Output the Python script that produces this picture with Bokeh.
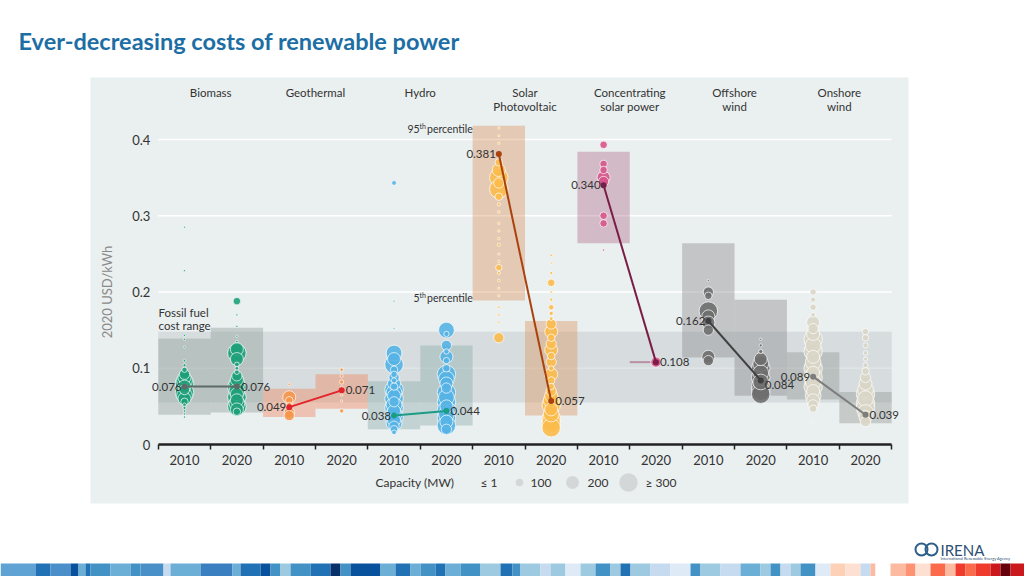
from bokeh.plotting import figure
from bokeh.models import Range1d, LinearAxis, FixedTicker, ColumnDataSource, LinearInterpolator
from bokeh.core.properties import value
from bokeh.embed import file_html
from bokeh.resources import INLINE

# ---------------- data ----------------
techs = ["Biomass", "Geothermal", "Hydro", "Solar\nPhotovoltaic",
         "Concentrating\nsolar power", "Offshore\nwind", "Onshore\nwind"]
years = ["2010", "2020"]
avg_2010 = [0.076, 0.049, 0.038, 0.381, 0.340, 0.162, 0.089]
avg_2020 = [0.076, 0.071, 0.044, 0.057, 0.108, 0.084, 0.039]
avg_2010_labels = ["0.076", "0.049", "0.038", "0.381", "0.340", "0.162", "0.089"]
avg_2020_labels = ["0.076", "0.071", "0.044", "0.057", "0.108", "0.084", "0.039"]
p5_2010 = [0.039, 0.036, 0.020, 0.189, 0.264, 0.114, 0.059]
p95_2010 = [0.139, 0.073, 0.083, 0.418, 0.384, 0.264, 0.121]
p5_2020 = [0.042, 0.047, 0.025, 0.038, 0.108, 0.064, 0.028]
p95_2020 = [0.153, 0.092, 0.130, 0.162, 0.108, 0.190, 0.069]
fossil_low = 0.055
fossil_high = 0.148
y_ticks = [0, 0.1, 0.2, 0.3, 0.4]
y_tick_labels = ["0", "0.1", "0.2", "0.3", "0.4"]
legend_mw = [100, 200, 300]
legend_labels = ["≤ 1", "100", "200", "≥ 300"]

# individual projects: LCOE (USD/kWh) and capacity (MW), per technology and year
biomass_2010_lcoe = [0.285, 0.228, 0.143, 0.138, 0.128, 0.110, 0.104, 0.098, 0.092, 0.088, 0.084, 0.080,
                     0.076, 0.072, 0.068, 0.064, 0.060, 0.056, 0.052, 0.048, 0.044, 0.040, 0.036]
biomass_2010_mw = [1, 1, 5, 5, 1, 10, 20, 60, 150, 200, 250, 300, 200, 150, 300, 250, 200, 100, 30, 20, 10, 5, 5]
biomass_2020_lcoe = [0.188, 0.170, 0.155, 0.142, 0.135, 0.125, 0.120, 0.112, 0.105, 0.100, 0.095, 0.090,
                     0.085, 0.080, 0.075, 0.070, 0.066, 0.062, 0.058, 0.054, 0.050, 0.046, 0.043]
biomass_2020_mw = [100, 3, 5, 5, 10, 200, 300, 200, 50, 30, 50, 150, 200, 250, 300, 250, 200, 300, 200, 250, 300, 200, 100]
geothermal_2010_lcoe = [0.079, 0.062, 0.058, 0.052, 0.042, 0.038]
geothermal_2010_mw = [10, 200, 100, 60, 150, 150]
geothermal_2020_lcoe = [0.098, 0.090, 0.082, 0.075, 0.065, 0.057, 0.044]
geothermal_2020_mw = [30, 20, 40, 10, 5, 5, 40]
hydro_2010_lcoe = [0.343, 0.188, 0.152, 0.120, 0.112, 0.105, 0.098, 0.092, 0.088, 0.084, 0.080, 0.076, 0.072,
                   0.068, 0.064, 0.060, 0.056, 0.052, 0.048, 0.044, 0.040, 0.036, 0.032, 0.028, 0.024, 0.020, 0.016]
hydro_2010_mw = [50, 5, 2, 250, 200, 300, 100, 80, 150, 60, 200, 100, 300,
                 250, 200, 300, 150, 250, 300, 200, 250, 300, 200, 250, 150, 100, 50]
hydro_2020_lcoe = [0.150, 0.145, 0.130, 0.122, 0.115, 0.110, 0.100, 0.092, 0.086, 0.080, 0.074, 0.068, 0.062,
                   0.056, 0.050, 0.045, 0.040, 0.035, 0.030, 0.025, 0.020]
hydro_2020_mw = [250, 60, 150, 60, 200, 80, 100, 300, 250, 200, 150, 300, 250, 300, 200, 300, 250, 300, 200, 300, 150]
pv_2010_lcoe = [0.415, 0.405, 0.395, 0.380, 0.370, 0.360, 0.350, 0.343, 0.335, 0.325, 0.315, 0.305, 0.290,
                0.280, 0.270, 0.262, 0.250, 0.240, 0.232, 0.225, 0.215, 0.205, 0.195, 0.180, 0.170, 0.160, 0.140]
pv_2010_mw = [5, 3, 5, 20, 100, 200, 300, 150, 300, 100, 20, 10, 5, 5, 10, 20, 5, 10, 80, 20, 10, 5, 3, 10, 10, 5, 150]
pv_2020_lcoe = [0.248, 0.238, 0.225, 0.212, 0.200, 0.190, 0.180, 0.172, 0.165, 0.158, 0.148, 0.140, 0.132,
                0.124, 0.116, 0.108, 0.100, 0.092, 0.084, 0.076, 0.070, 0.064, 0.058, 0.052, 0.046, 0.040,
                0.034, 0.028, 0.022]
pv_2020_mw = [10, 5, 20, 100, 10, 20, 60, 40, 30, 150, 200, 100, 150, 200, 100, 150, 60, 200, 100, 80, 150,
              200, 250, 300, 200, 250, 300, 300, 300]
csp_2010_lcoe = [0.393, 0.368, 0.360, 0.350, 0.345, 0.300, 0.290, 0.255]
csp_2010_mw = [100, 100, 100, 200, 150, 100, 100, 5]
csp_2020_lcoe = [0.108]
csp_2020_mw = [150]
offshore_2010_lcoe = [0.215, 0.200, 0.195, 0.175, 0.168, 0.160, 0.150, 0.115, 0.110]
offshore_2010_mw = [5, 150, 100, 300, 200, 200, 150, 200, 150]
offshore_2020_lcoe = [0.138, 0.130, 0.122, 0.112, 0.106, 0.100, 0.094, 0.088, 0.082, 0.076, 0.070, 0.066]
offshore_2020_mw = [5, 20, 40, 200, 250, 300, 250, 300, 250, 300, 300, 300]
onshore_2010_lcoe = [0.200, 0.190, 0.180, 0.170, 0.160, 0.152, 0.145, 0.138, 0.130, 0.122, 0.115, 0.108, 0.100,
                     0.094, 0.088, 0.082, 0.076, 0.070, 0.064, 0.058, 0.052, 0.047, 0.030]
onshore_2010_mw = [80, 60, 80, 50, 200, 150, 200, 300, 250, 300, 200, 250, 300, 200, 300, 250, 300, 200, 250,
                   200, 150, 100, 2]
onshore_2020_lcoe = [0.148, 0.140, 0.130, 0.120, 0.112, 0.104, 0.096, 0.088, 0.080, 0.072, 0.066, 0.060, 0.054,
                     0.048, 0.042, 0.036, 0.030]
onshore_2020_mw = [80, 80, 60, 50, 40, 60, 100, 150, 200, 250, 300, 250, 300, 300, 250, 200, 150]

projects = [
    (biomass_2010_lcoe, biomass_2010_mw), (biomass_2020_lcoe, biomass_2020_mw),
    (geothermal_2010_lcoe, geothermal_2010_mw), (geothermal_2020_lcoe, geothermal_2020_mw),
    (hydro_2010_lcoe, hydro_2010_mw), (hydro_2020_lcoe, hydro_2020_mw),
    (pv_2010_lcoe, pv_2010_mw), (pv_2020_lcoe, pv_2020_mw),
    (csp_2010_lcoe, csp_2010_mw), (csp_2020_lcoe, csp_2020_mw),
    (offshore_2010_lcoe, offshore_2010_mw), (offshore_2020_lcoe, offshore_2020_mw),
    (onshore_2010_lcoe, onshore_2010_mw), (onshore_2020_lcoe, onshore_2020_mw),
]

# ---------------- styles ----------------
bubble_colors = ["#1fa07a", "#f5964b", "#55b2e4", "#fbbb4c", "#d5578b", "#6e6e6e", "#d9d6c6"]
avg_colors = ["#5c6b66", "#e3242b", "#1b9c86", "#a9420f", "#7a1d46", "#404040", "#7d7d7d"]
box_colors = ["#7f8f8a", "#f46f40", "#7aa09e", "#db8645", "#a75b7c", "#7a787c", "#858985"]
FONT = "Lato"
TXT = "#333333"

# layout (page pixel) constants; the figure sits at the page origin
W, H = 1024, 576
PX0, DX = 184.0, 52.385      # page x of first slot, slot spacing
PY0, DY = 444.0, 762.5       # page y of zero, px per USD/kWh
x0 = (0 - PX0) / DX
x1 = (W - PX0) / DX
y0 = (PY0 - H) / DY
y1 = PY0 / DY

p = figure(width=W, height=H, output_backend="svg", toolbar_location=None,
           x_range=Range1d(x0, x1), y_range=Range1d(y0, y1),
           x_axis_type=None, y_axis_type=None, min_border=0,
           outline_line_color=None, background_fill_color="white",
           border_fill_color="white")
p.extra_x_ranges = {"page": Range1d(0, W)}
p.extra_y_ranges = {"page": Range1d(H, 0)}
PG = dict(x_range_name="page", y_range_name="page")

# panel
p.quad(left=[90], right=[908], top=[77], bottom=[503], fill_color="#eaeff0", line_color=None, **PG)

n_slots = 2 * len(techs)
xl, xr = -0.5, n_slots - 0.5

# grid lines
p.segment(x0=[xl] * 4, x1=[xr] * 4, y0=y_ticks[1:], y1=y_ticks[1:], line_color="white", line_width=1.6)

# fossil fuel band
p.quad(left=[xl], right=[xr], bottom=[fossil_low], top=[fossil_high],
       fill_color="#c4cbcd", fill_alpha=0.5, line_color=None)

# percentile boxes
bl, br, bb, bt, bcol = [], [], [], [], []
seg = dict(x0=[], x1=[], y=[], c=[])
for k in range(len(techs)):
    for j, (lo, hi) in enumerate([(p5_2010[k], p95_2010[k]), (p5_2020[k], p95_2020[k])]):
        s = 2 * k + j
        if hi - lo < 0.004:
            seg["x0"].append(s - 0.5); seg["x1"].append(s); seg["y"].append(lo); seg["c"].append(box_colors[k])
        else:
            bl.append(s - 0.5); br.append(s + 0.5); bb.append(lo); bt.append(hi); bcol.append(box_colors[k])
p.quad(left=bl, right=br, bottom=bb, top=bt, fill_color=bcol, fill_alpha=0.35, line_color=None)
p.segment(x0=seg["x0"], x1=seg["x1"], y0=seg["y"], y1=seg["y"], line_color=seg["c"], line_alpha=0.6, line_width=2)

# bubbles
bx, by, bmw, bc = [], [], [], []
for s, (vals, mws) in enumerate(projects):
    for v, m in zip(vals, mws):
        bx.append(s); by.append(v); bmw.append(m); bc.append(bubble_colors[s // 2])
order = sorted(range(len(bx)), key=lambda i: -bmw[i])
src = ColumnDataSource(dict(x=[bx[i] for i in order], y=[by[i] for i in order],
                            mw=[bmw[i] for i in order], c=[bc[i] for i in order]))
size_map = LinearInterpolator(x=[0, 300], y=[2, 18.5], clip=True)
p.scatter("x", "y", source=src, size={"field": "mw", "transform": size_map},
          fill_color="c", fill_alpha=0.9, line_color="white", line_width=0.7)

# weighted averages
xs10 = [2 * k for k in range(len(techs))]
xs20 = [2 * k + 1 for k in range(len(techs))]
p.segment(x0=xs10, x1=xs20, y0=avg_2010, y1=avg_2020, line_color=avg_colors, line_width=2)
p.scatter(xs10 + xs20, avg_2010 + avg_2020, size=6, fill_color=avg_colors + avg_colors, line_color=None)
tf = value(FONT)
p.text(xs10, avg_2010, text=avg_2010_labels, text_align="right", text_baseline="middle",
       x_offset=-3, text_font=tf, text_font_size="11.5px", text_color=TXT)
y_off20 = [0, 0, 0, 0, 0, 5, 0]
p.text(xs20, avg_2020, text=avg_2020_labels, text_align="left", text_baseline="middle",
       x_offset=4, y_offset=y_off20, text_font=tf, text_font_size="11.5px", text_color=TXT)

# technology labels
p.text([2 * k + 0.5 for k in range(len(techs))], [85] * len(techs), text=techs,
       text_align="center", text_baseline="top", text_font=tf, text_font_size="11.5px",
       text_color=TXT, text_line_height=1.08, x_range_name="default", y_range_name="page")

# axes
xa = LinearAxis(fixed_location=0, bounds=(xl, xr),
                ticker=FixedTicker(ticks=list(range(n_slots)),
                                   minor_ticks=[i - 0.5 for i in range(n_slots + 1)]))
xa.major_label_overrides = {i: years[i % 2] for i in range(n_slots)}
xa.major_tick_line_color = None
xa.major_tick_in = 0
xa.major_tick_out = 0
xa.minor_tick_in = 0
xa.minor_tick_out = 5
xa.minor_tick_line_color = "#222222"
xa.minor_tick_line_width = 1.5
xa.axis_line_color = "#222222"
xa.axis_line_width = 2.5
xa.major_label_standoff = 5
xa.major_label_text_font = FONT
xa.major_label_text_font_size = "13px"
xa.major_label_text_color = TXT
p.add_layout(xa, "below")

ya = LinearAxis(fixed_location=xl, bounds=(0, 0.4), ticker=FixedTicker(ticks=y_ticks))
ya.major_label_overrides = {t: l for t, l in zip(y_ticks, y_tick_labels)}
ya.axis_line_color = None
ya.major_tick_line_color = None
ya.minor_tick_line_color = None
ya.major_tick_in = 0
ya.major_tick_out = 0
ya.major_label_standoff = 8
ya.major_label_text_font = FONT
ya.major_label_text_font_size = "13px"
ya.major_label_text_color = TXT
ya.axis_label = "2020 USD/kWh"
ya.axis_label_text_font = FONT
ya.axis_label_text_font_style = "normal"
ya.axis_label_text_font_size = "13px"
ya.axis_label_text_color = "#8a8a8a"
ya.axis_label_standoff = 14
p.add_layout(ya, "left")

# annotations
p.text([407, 426.5], [128, 128], text=["95", "percentile"], text_baseline="middle",
       text_font=tf, text_font_size="10.5px", text_color=TXT, **PG)
p.text([419], [125], text=["th"], text_baseline="middle", text_font=tf, text_font_size="7px",
       text_color=TXT, **PG)
p.text([413, 426.5], [297, 297], text=["5", "percentile"], text_baseline="middle",
       text_font=tf, text_font_size="10.5px", text_color=TXT, **PG)
p.text([419], [294], text=["th"], text_baseline="middle", text_font=tf, text_font_size="7px",
       text_color=TXT, **PG)
p.text([158, 158], [312, 325], text=["Fossil fuel", "cost range"], text_baseline="middle",
       text_font=tf, text_font_size="11.5px", text_color=TXT, **PG)

# capacity legend
p.text([375], [482], text=["Capacity (MW)"], text_baseline="middle", text_font=tf,
       text_font_size="12px", text_color=TXT, **PG)
p.text([480, 530, 587, 645], [482] * 4, text=legend_labels, text_baseline="middle", text_font=tf,
       text_font_size="12px", text_color=TXT, **PG)
lsrc = ColumnDataSource(dict(x=[519, 572, 628], y=[482] * 3, mw=legend_mw))
p.scatter("x", "y", source=lsrc, size={"field": "mw", "transform": size_map},
          fill_color="#d3d7d8", line_color=None, **PG)

# title
p.text([18], [40], text=["Ever-decreasing costs of renewable power"], text_baseline="middle",
       text_font=tf, text_font_style="bold", text_font_size="23.5px", text_color="#1c6ea4", **PG)

# logo
p.scatter([921, 931], [549, 549], size=12, fill_color=None, line_color="#2d5f8a", line_width=2, **PG)
p.text([940], [549], text=["IRENA"], text_baseline="middle", text_font=tf, text_font_size="15px",
       text_color="#2d4f73", **PG)
p.text([940], [558], text=["International Renewable Energy Agency"], text_baseline="middle",
       text_font=tf, text_font_size="4px", text_color="#2d4f73", **PG)

# warming stripes
stripe_ends = [35, 50, 70, 78, 85, 90, 110, 130, 140, 163, 170, 200, 232, 240, 260, 270, 280, 290, 310, 330,
               340, 350, 380, 395, 410, 420, 435, 445, 460, 480, 500, 512, 520, 540, 550, 565, 580, 595, 610,
               620, 630, 650, 670, 690, 700, 720, 740, 760, 770, 780, 790, 800, 815, 830, 845, 860, 870, 875,
               890, 905, 915, 930, 945, 955, 965, 975, 990, 1000, 1010, 1024]
stripe_cols = ["#5fa2d4", "#2171b5", "#4a8fc9", "#08519c", "#6baed6", "#2171b5", "#4292c6", "#6baed6",
               "#4292c6", "#4a90c8", "#c6dbef", "#6baed6", "#3a7fc0", "#6baed6", "#2171b5", "#08519c",
               "#4292c6", "#9ecae1", "#4292c6", "#2171b5", "#08306b", "#4292c6", "#08519c", "#6baed6",
               "#2171b5", "#6baed6", "#4292c6", "#2171b5", "#6baed6", "#4292c6", "#9ecae1", "#2171b5",
               "#4292c6", "#9ecae1", "#c6dbef", "#9ecae1", "#deebf7", "#9ecae1", "#4292c6", "#9ecae1",
               "#2171b5", "#9ecae1", "#c6dbef", "#deebf7", "#4292c6", "#9ecae1", "#c6dbef", "#6baed6",
               "#9ecae1", "#4292c6", "#c6dbef", "#9ecae1", "#4292c6", "#deebf7", "#fdd0b8", "#fee0d2",
               "#c6dbef", "#fcbba1", "#ffffff", "#fcbba1", "#fc9272", "#fee0d2", "#fb6a4a", "#fcbba1",
               "#ef3b2c", "#fb6a4a", "#ef3b2c", "#cb181d", "#67000d", "#cb181d"]
stripe_starts = [0] + stripe_ends[:-1]
p.quad(left=stripe_starts, right=stripe_ends, top=[563] * len(stripe_ends), bottom=[576] * len(stripe_ends),
       fill_color=stripe_cols, line_color=None, **PG)

open("out.html", "w").write(file_html(p, INLINE))
